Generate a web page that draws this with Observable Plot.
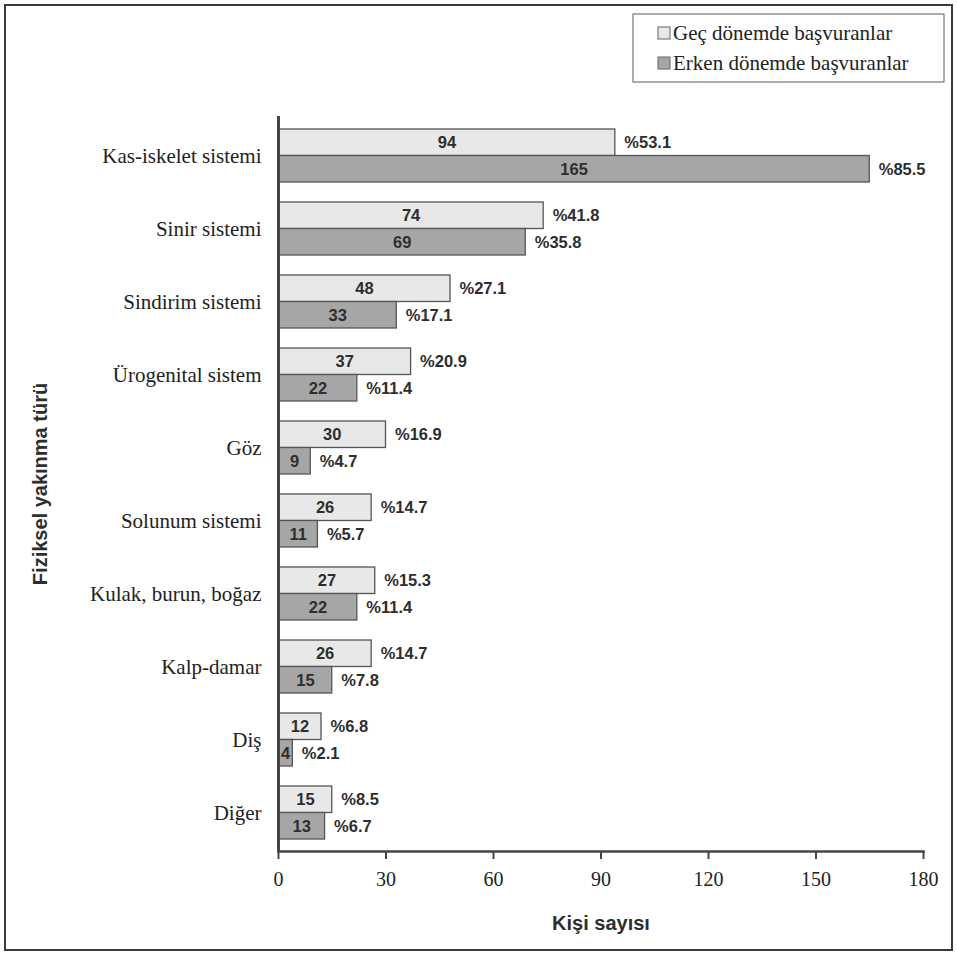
<!DOCTYPE html>
<html>
<head>
<meta charset="utf-8">
<script src="https://cdn.jsdelivr.net/npm/d3@7"></script>
<script src="https://cdn.jsdelivr.net/npm/@observablehq/plot@0.6"></script>
<style>
  html, body { margin: 0; padding: 0; background: #ffffff; }
  #wrap { position: relative; width: 957px; height: 956px; overflow: hidden; }
  #border { position: absolute; left: 4px; top: 4px; width: 945px; height: 943px; border: 2.5px solid #3a3a3a; pointer-events: none; }
</style>
</head>
<body>
<div id="wrap"><div id="chart"></div><div id="border"></div></div>
<script>
const categories = ["Kas-iskelet sistemi", "Sinir sistemi", "Sindirim sistemi", "Ürogenital sistem", "Göz", "Solunum sistemi", "Kulak, burun, boğaz", "Kalp-damar", "Diş", "Diğer"];
const seriesNames = ["Geç dönemde başvuranlar", "Erken dönemde başvuranlar"];
const lateCounts = [94, 74, 48, 37, 30, 26, 27, 26, 12, 15];
const latePercents = ["%53.1", "%41.8", "%27.1", "%20.9", "%16.9", "%14.7", "%15.3", "%14.7", "%6.8", "%8.5"];
const earlyCounts = [165, 69, 33, 22, 9, 11, 22, 15, 4, 13];
const earlyPercents = ["%85.5", "%35.8", "%17.1", "%11.4", "%4.7", "%5.7", "%11.4", "%7.8", "%2.1", "%6.7"];
const xTicks = [0, 30, 60, 90, 120, 150, 180];
const xLabel = "Kişi sayısı";
const yLabel = "Fiziksel yakınma türü";

const lightFill = "#e8e8e8";
const darkFill = "#a6a6a6";
const barStroke = "#555555";
const textColor = "#2e2e2e";
const sans = "'Liberation Sans', Arial, sans-serif";
const serif = "'Liberation Serif', 'Times New Roman', serif";

const late = categories.map((c, i) => ({category: c, value: lateCounts[i], pct: latePercents[i]}));
const early = categories.map((c, i) => ({category: c, value: earlyCounts[i], pct: earlyPercents[i]}));

const half = 26.5;
const valueFont = 16.5;

const plot = Plot.plot({
  width: 957,
  height: 956,
  marginTop: 116,
  marginBottom: 105,
  marginLeft: 278,
  marginRight: 34,
  style: {background: "transparent", color: textColor},
  x: {domain: [0, 180], ticks: xTicks},
  y: {domain: categories, paddingInner: 0.28, paddingOuter: 0.136},
  marks: [
    Plot.barX(late, {x: "value", y: "category", fill: lightFill, stroke: barStroke, strokeWidth: 1.3, insetBottom: half}),
    Plot.barX(early, {x: "value", y: "category", fill: darkFill, stroke: barStroke, strokeWidth: 1.3, insetTop: half}),
    Plot.text(late, {x: d => d.value / 2, y: "category", text: d => String(d.value), dy: -half / 2, fontFamily: sans, fontWeight: "bold", fontSize: valueFont, fill: textColor}),
    Plot.text(early, {x: d => d.value / 2, y: "category", text: d => String(d.value), dy: half / 2, fontFamily: sans, fontWeight: "bold", fontSize: valueFont, fill: textColor}),
    Plot.text(late, {x: "value", y: "category", text: "pct", dx: 9, dy: -half / 2, textAnchor: "start", fontFamily: sans, fontWeight: "bold", fontSize: valueFont, fill: textColor}),
    Plot.text(early, {x: "value", y: "category", text: "pct", dx: 9, dy: half / 2, textAnchor: "start", fontFamily: sans, fontWeight: "bold", fontSize: valueFont, fill: textColor}),
    Plot.axisX({ticks: xTicks, tickSize: 8, tickPadding: 12, fontFamily: serif, fontSize: 20, label: null, stroke: "#444", strokeWidth: 2, fill: "#222"}),
    Plot.axisY({tickSize: 0, tickPadding: 17, fontFamily: serif, fontSize: 21, label: null, fill: "#222"}),
    Plot.frame({anchor: "bottom", stroke: "#444", strokeWidth: 2.5}),
    Plot.ruleX([0], {stroke: "#444", strokeWidth: 3}),
    Plot.text([xLabel], {frameAnchor: "bottom", textAnchor: "middle", dy: 78, text: d => d, fontFamily: sans, fontWeight: "bold", fontSize: 20, fill: textColor}),
    Plot.text([yLabel], {frameAnchor: "left", textAnchor: "middle", dx: -238, rotate: -90, text: d => d, fontFamily: sans, fontWeight: "bold", fontSize: 20, fill: textColor})
  ]
});

document.getElementById("chart").appendChild(plot);

// Legend (inside the SVG, top right)
const svg = d3.select(plot);
const lg = svg.append("g").attr("transform", "translate(633,14)");
lg.append("rect").attr("width", 311).attr("height", 68).attr("fill", "#fff").attr("stroke", "#777").attr("stroke-width", 1.2);
const fills = [lightFill, darkFill];
seriesNames.forEach((name, i) => {
  const row = lg.append("g").attr("transform", `translate(25,${19 + i * 30})`);
  row.append("rect").attr("x", 0).attr("y", -6).attr("width", 12).attr("height", 12).attr("fill", fills[i]).attr("stroke", "#666").attr("stroke-width", 1);
  row.append("text").attr("x", 15).attr("y", 0).attr("dy", "0.35em").attr("text-anchor", "start")
    .attr("font-family", serif).attr("font-size", 21).attr("fill", "#222").text(name);
});
</script>
</body>
</html>
